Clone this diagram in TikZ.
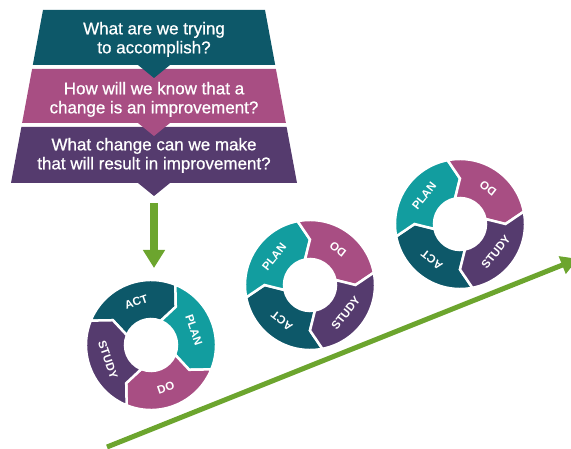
\documentclass[tikz,border=0pt]{standalone}
\usepackage{fontspec}
\setmainfont{Liberation Sans}
\newfontfamily\qfont[FakeBold=0.8]{Liberation Sans}
\usetikzlibrary{arrows.meta}
\definecolor{cDark}{HTML}{0D5869}
\definecolor{cTeal}{HTML}{129D9F}
\definecolor{cPink}{HTML}{A84E83}
\definecolor{cPurple}{HTML}{553B6E}
\definecolor{cGreen}{HTML}{6CA52E}
\def\Ro{65pt}
\def\Ri{26pt}
\def\Rm{45.5pt}
\def\Dang{11}
% one ring segment: #1 trailing angle, #2 colour
\newcommand{\pdsaseg}[2]{%
  \fill[#2, draw=white, line width=2.5pt, line join=miter]
    (#1:\Ro) arc[start angle=#1, end angle=#1-90, radius=\Ro]
    -- (#1-90-\Dang:\Rm) -- (#1-90:\Ri)
    arc[start angle=#1-90, end angle=#1, radius=\Ri]
    -- (#1-\Dang:\Rm) -- cycle;}
% one PDSA cycle: #1 centre, #2 rotation, #3 name prefix
\newcommand{\pdsacycle}[3]{%
  \begin{scope}[shift={#1}, rotate=#2]
    \pdsaseg{139}{cDark}
    \pdsaseg{49}{cTeal}
    \pdsaseg{-41}{cPink}
    \pdsaseg{229}{cPurple}
    \node[lbl, rotate=#2]    (#3act)   at (90:\Rm)  {ACT};
    \node[lbl, rotate=#2-90] (#3plan)  at (0:\Rm)   {PLAN};
    \node[lbl, rotate=#2]    (#3do)    at (-90:\Rm) {DO};
    \node[lbl, rotate=#2-90] (#3study) at (180:\Rm) {STUDY};
  \end{scope}}
\begin{document}
\begin{tikzpicture}[x=1pt, y=1pt,
  question/.style={text=white, align=center, inner sep=0pt,
    font=\qfont\fontsize{17}{19}\selectfont},
  lbl/.style={text=white, inner sep=0pt,
    font=\bfseries\fontsize{11.5}{13}\selectfont},
  greenarrow/.style={draw=cGreen, line cap=butt}]
\useasboundingbox (0,0) rectangle (571,448);
\clip (0,0) rectangle (571,448);
% funnel
\fill[cPurple] (21.4,321) -- (286.6,321) -- (297,265) -- (170,265)
  -- (154,252) -- (138,265) -- (11,265) -- cycle;
\fill[cPink] (32.1,379) -- (275.9,379) -- (285.9,325) -- (170,325)
  -- (154,312) -- (138,325) -- (22.1,325) -- cycle;
\fill[cDark] (43,438) -- (265,438) -- (275.2,383) -- (170,383)
  -- (154,370) -- (138,383) -- (32.8,383) -- cycle;
\node[question] (q1) at (154,408) {\strut What are we trying\\to accomplish?\strut};
\node[question] (q2) at (154,348) {\strut How will we know that a\\change is an improvement?\strut};
\node[question] (q3) at (154,292) {\strut What change can we make\\that will result in improvement?\strut};
% down arrow
\coordinate (dtop) at (154,245);
\coordinate (dbot) at (154,180);
\draw[greenarrow, line width=8pt, -{Triangle[width=21pt,length=18pt]}] (dtop) -- (dbot);
% big rising arrow
\coordinate (gstart) at (107,1);
\coordinate (gend) at (578,189.2);
\draw[greenarrow, line width=5pt, -{Triangle[width=18pt,length=17pt]}] (gstart) -- (gend);
% cycles
\pdsacycle{(151,103)}{19}{a}
\pdsacycle{(310,163)}{142}{b}
\pdsacycle{(460,224)}{142}{c}
\end{tikzpicture}
\end{document}
